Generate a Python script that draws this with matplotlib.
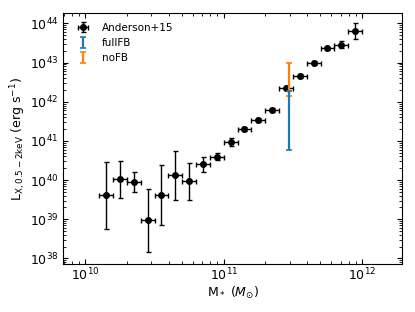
import matplotlib
matplotlib.use('Agg')
import matplotlib.pyplot as plt
import numpy as np

# Anderson+15 stacked points (log10 values)
log_mstar = [10.15, 10.25, 10.35, 10.45, 10.55, 10.65, 10.75, 10.85, 10.95, 11.05,
             11.15, 11.25, 11.35, 11.45, 11.55, 11.65, 11.75, 11.85, 11.95]
log_lx = [39.61, 40.02, 39.96, 38.97, 39.62, 40.12, 39.97, 40.41, 40.59, 40.97,
          41.30, 41.53, 41.79, 42.35, 42.65, 42.98, 43.37, 43.46, 43.80]
log_lx_hi = [40.46, 40.49, 40.21, 39.77, 40.38, 40.75, 40.43, 40.60, 40.68, 41.07,
             41.36, 41.58, 41.84, 42.40, 42.70, 43.03, 43.41, 43.55, 44.02]
log_lx_lo = [38.74, 39.53, 39.69, 38.17, 38.86, 39.49, 39.49, 40.21, 40.50, 40.87,
             41.24, 41.48, 41.74, 42.30, 42.60, 42.93, 43.33, 43.37, 43.61]
bin_half = 0.05

# simulation ranges
sim_log_mstar = 11.47
full_fb = (40.77, 42.27)
no_fb = (42.14, 42.98)

m = 10**np.array(log_mstar)
lx = 10**np.array(log_lx)
yerr = [lx - 10**np.array(log_lx_lo), 10**np.array(log_lx_hi) - lx]
xerr = [m - 10**(np.array(log_mstar) - bin_half), 10**(np.array(log_mstar) + bin_half) - m]

fig = plt.figure(figsize=(4.15, 3.12), dpi=100)
ax = fig.add_axes([0.152, 0.154, 0.817, 0.803])

ax.errorbar(m, lx, xerr=xerr, yerr=yerr, fmt='o', color='k', ms=4,
            elinewidth=1.0, capsize=1.8, capthick=1.0, label='Anderson+15', zorder=2)

# blue sits on top of orange where they overlap
for rng, col, lab, z in [(full_fb, '#1f77b4', 'fullFB', 4), (no_fb, '#ff7f0e', 'noFB', 3)]:
    mid = 10**np.mean(rng)
    ax.errorbar([10**sim_log_mstar], [mid],
                yerr=[[mid - 10**rng[0]], [10**rng[1] - mid]],
                fmt='none', ecolor=col, elinewidth=1.6, capsize=2.5, capthick=1.2,
                label=lab, zorder=z)

ax.set_xscale('log')
ax.set_yscale('log')
ax.set_xlim(6.9e9, 1.95e12)
ax.set_ylim(7.2e37, 1.8e44)

ax.tick_params(which='both', direction='in', top=True, right=True, labelsize=9)
ax.tick_params(axis='x', pad=2)
ax.set_xlabel(r'M$_*$ ($M_{\odot}$)', fontsize=9, labelpad=1)
ax.set_ylabel(r'L$_{\rm X, 0.5-2keV}$ (erg s$^{-1}$)', fontsize=9, labelpad=1)

ax.legend(loc='upper left', frameon=False, fontsize=7.5)

fig.savefig('out.png', dpi=100)
